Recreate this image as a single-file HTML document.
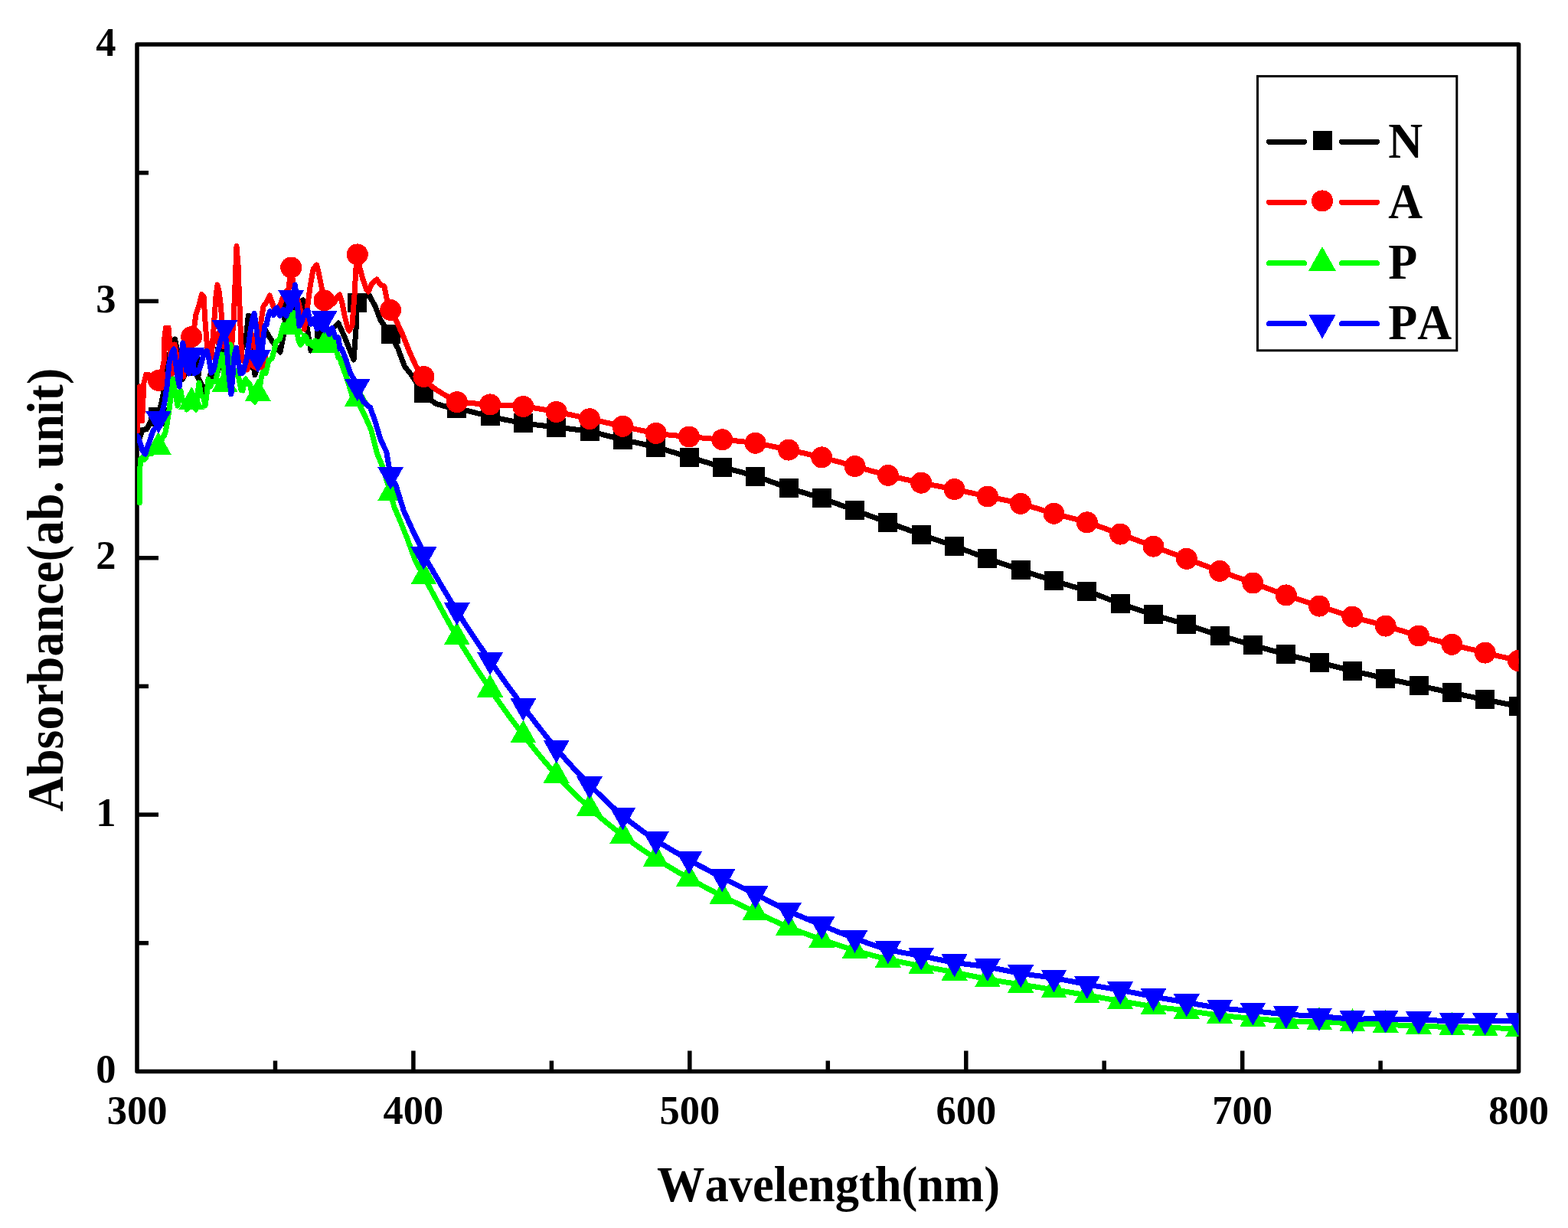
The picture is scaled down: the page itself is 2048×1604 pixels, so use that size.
<!DOCTYPE html>
<html><head><meta charset="utf-8"><title>Absorbance spectra</title>
<style>
html,body{margin:0;padding:0;background:#fff;}
body{width:2048px;height:1604px;overflow:hidden;}
svg{display:block;}
text{font-kerning:none;font-family:"Liberation Serif","Times New Roman",serif;font-weight:bold;fill:#000;}
</style></head><body>
<svg width="2048" height="1604" viewBox="0 0 2048 1604">
<defs><clipPath id="pc"><rect x="179" y="58" width="1804.6" height="1341.5"/></clipPath></defs>
<g stroke="#000" stroke-width="5.5" fill="none">
<rect x="179" y="58" width="1804.6" height="1341.5" stroke-linejoin="round"/>
<line x1="359.5" y1="1399.5" x2="359.5" y2="1385.5"/><line x1="539.9" y1="1399.5" x2="539.9" y2="1372.5"/><line x1="720.4" y1="1399.5" x2="720.4" y2="1385.5"/><line x1="900.8" y1="1399.5" x2="900.8" y2="1372.5"/><line x1="1081.3" y1="1399.5" x2="1081.3" y2="1385.5"/><line x1="1261.8" y1="1399.5" x2="1261.8" y2="1372.5"/><line x1="1442.2" y1="1399.5" x2="1442.2" y2="1385.5"/><line x1="1622.7" y1="1399.5" x2="1622.7" y2="1372.5"/><line x1="1803.1" y1="1399.5" x2="1803.1" y2="1385.5"/><line x1="179" y1="1231.8" x2="194" y2="1231.8"/><line x1="179" y1="1064.1" x2="207" y2="1064.1"/><line x1="179" y1="896.4" x2="194" y2="896.4"/><line x1="179" y1="728.8" x2="207" y2="728.8"/><line x1="179" y1="561.1" x2="194" y2="561.1"/><line x1="179" y1="393.4" x2="207" y2="393.4"/><line x1="179" y1="225.7" x2="194" y2="225.7"/>
</g>
<g clip-path="url(#pc)" shape-rendering="crispEdges">
<path d="M180.0,582.0 L183.0,570.0 L186.0,562.0 L192.0,560.0 L198.0,548.0 L205.0,544.0 L210.0,530.0 L214.0,510.0 L218.0,490.0 L221.0,465.0 L225.0,447.0 L228.5,443.0 L231.0,455.0 L234.0,478.0 L238.0,496.0 L241.0,490.0 L246.0,480.0 L251.0,478.0 L254.0,480.0 L258.0,492.0 L262.0,500.0 L268.0,512.0 L272.0,500.0 L276.0,485.0 L281.0,495.0 L286.0,480.0 L290.0,472.0 L294.5,465.0 L298.0,470.0 L302.0,478.0 L306.0,475.0 L310.0,470.0 L314.0,462.0 L318.0,450.0 L321.0,445.0 L324.3,412.0 L326.0,438.0 L330.0,470.0 L333.0,490.0 L336.0,480.0 L338.0,470.0 L342.0,445.0 L346.0,430.0 L350.0,437.0 L355.0,445.0 L360.0,452.0 L366.0,460.0 L370.0,440.0 L373.0,418.0 L377.0,410.0 L381.0,405.0 L388.0,398.0 L396.0,392.0 L400.0,420.0 L403.0,440.0 L406.0,458.0 L410.0,455.0 L416.0,448.0 L424.0,440.0 L432.0,432.0 L442.0,422.0 L450.0,440.0 L456.0,455.0 L462.0,470.0 L465.0,430.0 L466.6,396.0 L473.0,388.0 L482.4,386.0 L490.0,400.0 L497.0,418.0 L509.0,436.0 L519.7,455.0 L528.4,478.5 L538.4,491.0 L552.7,513.0 L568.3,527.0 L582.0,531.0 L596.8,533.0 L601.5,534.2 L608.0,535.9 L615.7,537.9 L624.0,540.0 L632.4,542.1 L640.1,543.9 L647.3,545.5 L654.5,547.1 L661.7,548.6 L669.0,550.0 L676.2,551.4 L683.4,552.6 L690.6,553.7 L697.8,554.6 L705.1,555.5 L712.3,556.3 L719.5,557.1 L726.7,558.0 L733.9,558.9 L741.2,559.7 L748.4,560.6 L755.6,561.5 L762.8,562.6 L770.0,563.8 L777.3,565.3 L784.5,566.9 L791.7,568.7 L798.9,570.5 L806.1,572.3 L813.4,574.1 L820.6,575.8 L827.8,577.4 L835.0,579.0 L842.2,580.6 L849.5,582.4 L856.7,584.2 L863.9,586.2 L871.1,588.3 L878.3,590.4 L885.6,592.6 L892.8,594.8 L900.0,597.0 L907.2,599.2 L914.4,601.4 L921.7,603.5 L928.9,605.7 L936.1,607.9 L943.3,610.0 L950.5,612.0 L957.8,614.0 L965.0,615.9 L972.2,617.8 L979.4,619.8 L986.6,622.0 L993.9,624.4 L1001.1,626.9 L1008.3,629.6 L1015.5,632.2 L1022.7,634.8 L1030.0,637.3 L1037.2,639.6 L1044.4,641.9 L1051.6,644.1 L1058.8,646.3 L1066.1,648.5 L1073.3,650.9 L1080.5,653.4 L1087.7,656.0 L1094.9,658.6 L1102.2,661.3 L1109.4,663.9 L1116.6,666.6 L1123.8,669.2 L1131.0,671.9 L1138.3,674.6 L1145.5,677.2 L1152.7,679.9 L1159.9,682.5 L1167.1,685.1 L1174.4,687.8 L1181.6,690.4 L1188.8,693.0 L1196.0,695.6 L1203.2,698.2 L1210.5,700.8 L1217.7,703.3 L1224.9,705.8 L1232.1,708.3 L1239.3,710.8 L1246.6,713.4 L1253.8,716.0 L1261.0,718.7 L1268.2,721.4 L1275.4,724.1 L1282.7,726.8 L1289.9,729.4 L1297.1,732.0 L1304.3,734.5 L1311.5,737.0 L1318.8,739.5 L1326.0,742.0 L1333.2,744.4 L1340.4,746.8 L1347.6,749.3 L1354.9,751.7 L1362.1,754.0 L1369.3,756.4 L1376.5,758.7 L1383.7,760.9 L1391.0,763.1 L1398.2,765.2 L1405.4,767.4 L1412.6,769.6 L1419.8,772.0 L1427.1,774.6 L1434.3,777.3 L1441.5,780.1 L1448.7,783.0 L1455.9,785.7 L1463.2,788.4 L1470.4,790.9 L1477.6,793.4 L1484.8,795.9 L1492.0,798.3 L1499.3,800.6 L1506.5,802.9 L1513.7,805.1 L1520.9,807.3 L1528.1,809.4 L1535.4,811.5 L1542.6,813.6 L1549.8,815.8 L1557.0,818.1 L1564.2,820.5 L1571.5,822.9 L1578.7,825.3 L1585.9,827.7 L1593.1,830.0 L1600.3,832.2 L1607.6,834.3 L1614.8,836.4 L1622.0,838.5 L1629.2,840.5 L1636.4,842.6 L1643.7,844.7 L1650.9,846.7 L1658.1,848.8 L1665.3,850.8 L1672.5,852.8 L1679.8,854.7 L1687.0,856.6 L1694.2,858.4 L1701.4,860.1 L1708.6,861.9 L1715.9,863.6 L1723.1,865.4 L1730.3,867.2 L1737.5,869.0 L1744.7,870.9 L1752.0,872.7 L1759.2,874.5 L1766.4,876.2 L1773.6,877.9 L1780.8,879.6 L1788.1,881.2 L1795.3,882.9 L1802.5,884.5 L1809.7,886.1 L1816.9,887.7 L1824.2,889.3 L1831.4,890.8 L1838.6,892.4 L1845.8,893.9 L1853.0,895.5 L1860.3,897.1 L1867.5,898.7 L1874.7,900.2 L1881.9,901.8 L1889.1,903.4 L1896.4,904.9 L1903.6,906.4 L1910.8,907.9 L1918.0,909.4 L1925.2,910.9 L1932.5,912.3 L1939.7,913.8 L1947.4,915.4 L1955.7,917.0 L1964.0,918.7 L1971.8,920.3 L1978.3,921.6 L1983.0,922.5" fill="none" stroke="#000" stroke-width="7" stroke-linejoin="round" stroke-linecap="round"/>
<g fill="#000"><rect x="194.4" y="531.5" width="25" height="25"/><rect x="237.7" y="465.5" width="25" height="25"/><rect x="281.0" y="452.5" width="25" height="25"/><rect x="324.3" y="457.5" width="25" height="25"/><rect x="367.7" y="392.5" width="25" height="25"/><rect x="411.0" y="427.5" width="25" height="25"/><rect x="454.3" y="383.1" width="25" height="25"/><rect x="497.6" y="423.5" width="25" height="25"/><rect x="540.9" y="500.7" width="25" height="25"/><rect x="584.3" y="520.5" width="25" height="25"/><rect x="627.6" y="531.4" width="25" height="25"/><rect x="670.9" y="540.1" width="25" height="25"/><rect x="714.2" y="545.5" width="25" height="25"/><rect x="757.5" y="551.3" width="25" height="25"/><rect x="800.9" y="561.6" width="25" height="25"/><rect x="844.2" y="571.7" width="25" height="25"/><rect x="887.5" y="584.5" width="25" height="25"/><rect x="930.8" y="597.5" width="25" height="25"/><rect x="974.1" y="609.5" width="25" height="25"/><rect x="1017.5" y="624.8" width="25" height="25"/><rect x="1060.8" y="638.4" width="25" height="25"/><rect x="1104.1" y="654.1" width="25" height="25"/><rect x="1147.4" y="670.0" width="25" height="25"/><rect x="1190.7" y="685.7" width="25" height="25"/><rect x="1234.1" y="700.9" width="25" height="25"/><rect x="1277.4" y="716.9" width="25" height="25"/><rect x="1320.7" y="731.9" width="25" height="25"/><rect x="1364.0" y="746.2" width="25" height="25"/><rect x="1407.3" y="759.5" width="25" height="25"/><rect x="1450.7" y="775.9" width="25" height="25"/><rect x="1494.0" y="790.4" width="25" height="25"/><rect x="1537.3" y="803.3" width="25" height="25"/><rect x="1580.6" y="817.5" width="25" height="25"/><rect x="1623.9" y="830.1" width="25" height="25"/><rect x="1667.3" y="842.2" width="25" height="25"/><rect x="1710.6" y="852.9" width="25" height="25"/><rect x="1753.9" y="863.7" width="25" height="25"/><rect x="1797.2" y="873.6" width="25" height="25"/><rect x="1840.5" y="883.0" width="25" height="25"/><rect x="1883.9" y="892.4" width="25" height="25"/><rect x="1927.2" y="901.3" width="25" height="25"/><rect x="1970.5" y="910.0" width="25" height="25"/></g>
<path d="M179.5,563.0 L182.6,505.0 L185.5,550.0 L188.0,500.0 L191.0,489.0 L196.0,490.0 L205.0,497.0 L210.0,492.0 L214.0,472.0 L215.0,440.0 L216.5,428.0 L220.0,428.0 L221.5,445.0 L222.5,470.0 L224.0,490.0 L226.0,465.0 L228.0,450.0 L231.0,465.0 L235.0,485.0 L239.6,492.0 L243.0,468.0 L247.0,448.0 L251.0,440.0 L254.0,425.0 L256.0,410.0 L259.0,402.0 L263.5,384.5 L266.0,387.0 L268.0,420.0 L271.0,458.0 L276.0,467.0 L279.0,430.0 L282.0,387.0 L284.0,372.0 L286.0,380.0 L288.5,400.0 L291.0,440.0 L294.5,442.0 L298.5,430.0 L302.0,455.0 L305.0,420.0 L307.0,372.0 L309.0,321.7 L311.0,346.0 L313.0,400.0 L315.0,450.0 L316.5,471.0 L320.0,473.0 L323.0,483.0 L325.5,455.0 L327.0,432.0 L331.0,445.0 L334.0,460.0 L337.8,470.0 L341.0,420.0 L344.0,400.0 L348.0,395.0 L352.3,386.0 L357.0,400.0 L362.0,407.0 L366.0,398.0 L371.0,385.0 L377.0,377.0 L380.3,349.6 L384.0,378.0 L390.0,395.0 L395.0,415.0 L397.5,430.0 L401.0,405.0 L405.0,375.0 L409.0,352.0 L413.5,346.0 L416.0,355.0 L420.0,375.0 L424.0,393.5 L430.0,398.0 L436.0,396.0 L440.0,388.0 L443.6,385.0 L447.0,396.0 L450.0,412.0 L454.0,428.0 L456.0,432.0 L460.0,425.0 L463.0,385.0 L465.0,350.0 L466.6,333.0 L470.0,350.0 L474.0,365.0 L479.0,379.0 L481.0,381.0 L486.0,370.0 L492.2,365.0 L497.0,372.0 L502.0,374.0 L505.0,390.0 L510.3,405.5 L518.0,420.0 L526.0,437.3 L535.0,460.0 L543.4,478.5 L553.3,492.2 L562.0,503.0 L570.8,509.7 L582.0,516.5 L596.8,525.2 L601.5,525.6 L608.0,526.1 L615.7,526.6 L624.0,527.3 L632.4,527.9 L640.1,528.4 L647.3,528.8 L654.5,529.1 L661.7,529.5 L669.0,529.8 L676.2,530.3 L683.4,531.0 L690.6,531.9 L697.8,532.9 L705.1,534.1 L712.3,535.3 L719.5,536.7 L726.7,538.0 L733.9,539.4 L741.2,540.9 L748.4,542.4 L755.6,544.0 L762.8,545.6 L770.0,547.2 L777.3,548.8 L784.5,550.4 L791.7,552.0 L798.9,553.6 L806.1,555.2 L813.4,556.8 L820.6,558.4 L827.8,560.0 L835.0,561.7 L842.2,563.2 L849.5,564.6 L856.7,565.9 L863.9,566.9 L871.1,567.8 L878.3,568.5 L885.6,569.2 L892.8,569.8 L900.0,570.5 L907.2,571.2 L914.4,571.8 L921.7,572.4 L928.9,573.0 L936.1,573.6 L943.3,574.3 L950.5,575.0 L957.8,575.6 L965.0,576.2 L972.2,577.0 L979.4,577.8 L986.6,578.8 L993.9,580.0 L1001.1,581.4 L1008.3,582.9 L1015.5,584.4 L1022.7,586.0 L1030.0,587.6 L1037.2,589.2 L1044.4,590.7 L1051.6,592.3 L1058.8,594.0 L1066.1,595.6 L1073.3,597.4 L1080.5,599.2 L1087.7,601.2 L1094.9,603.1 L1102.2,605.1 L1109.4,607.1 L1116.6,609.1 L1123.8,611.1 L1131.0,613.1 L1138.3,615.1 L1145.5,617.1 L1152.7,619.0 L1159.9,620.9 L1167.1,622.7 L1174.4,624.4 L1181.6,626.0 L1188.8,627.6 L1196.0,629.2 L1203.2,630.7 L1210.5,632.2 L1217.7,633.6 L1224.9,634.9 L1232.1,636.3 L1239.3,637.7 L1246.6,639.1 L1253.8,640.6 L1261.0,642.2 L1268.2,643.7 L1275.4,645.3 L1282.7,646.9 L1289.9,648.5 L1297.1,650.0 L1304.3,651.5 L1311.5,653.0 L1318.8,654.5 L1326.0,656.1 L1333.2,657.9 L1340.4,659.9 L1347.6,662.0 L1354.9,664.2 L1362.1,666.5 L1369.3,668.7 L1376.5,670.8 L1383.7,672.8 L1391.0,674.6 L1398.2,676.4 L1405.4,678.2 L1412.6,680.2 L1419.8,682.3 L1427.1,684.6 L1434.3,687.1 L1441.5,689.7 L1448.7,692.3 L1455.9,695.0 L1463.2,697.6 L1470.4,700.2 L1477.6,702.9 L1484.8,705.6 L1492.0,708.3 L1499.3,711.0 L1506.5,713.7 L1513.7,716.4 L1520.9,719.1 L1528.1,721.8 L1535.4,724.4 L1542.6,727.1 L1549.8,729.8 L1557.0,732.5 L1564.2,735.2 L1571.5,737.9 L1578.7,740.6 L1585.9,743.2 L1593.1,745.9 L1600.3,748.5 L1607.6,751.1 L1614.8,753.7 L1622.0,756.3 L1629.2,758.9 L1636.4,761.5 L1643.7,764.2 L1650.9,766.8 L1658.1,769.5 L1665.3,772.2 L1672.5,774.8 L1679.8,777.4 L1687.0,779.9 L1694.2,782.3 L1701.4,784.6 L1708.6,786.9 L1715.9,789.3 L1723.1,791.6 L1730.3,794.0 L1737.5,796.4 L1744.7,798.7 L1752.0,801.1 L1759.2,803.4 L1766.4,805.6 L1773.6,807.7 L1780.8,809.7 L1788.1,811.7 L1795.3,813.6 L1802.5,815.6 L1809.7,817.6 L1816.9,819.7 L1824.2,821.9 L1831.4,824.1 L1838.6,826.3 L1845.8,828.4 L1853.0,830.5 L1860.3,832.5 L1867.5,834.4 L1874.7,836.3 L1881.9,838.1 L1889.1,840.0 L1896.4,841.8 L1903.6,843.6 L1910.8,845.5 L1918.0,847.3 L1925.2,849.0 L1932.5,850.8 L1939.7,852.6 L1947.4,854.5 L1955.7,856.5 L1964.0,858.5 L1971.8,860.3 L1978.3,861.9 L1983.0,863.0" fill="none" stroke="#f00" stroke-width="7" stroke-linejoin="round" stroke-linecap="round"/>
<g fill="#f00"><circle cx="206.9" cy="497.0" r="14"/><circle cx="250.2" cy="440.0" r="14"/><circle cx="293.5" cy="442.0" r="14"/><circle cx="336.8" cy="470.0" r="14"/><circle cx="380.2" cy="349.5" r="14"/><circle cx="423.5" cy="392.4" r="14"/><circle cx="466.8" cy="332.4" r="14"/><circle cx="510.1" cy="405.0" r="14"/><circle cx="553.4" cy="492.0" r="14"/><circle cx="596.8" cy="525.2" r="14"/><circle cx="640.1" cy="528.4" r="14"/><circle cx="683.4" cy="531.0" r="14"/><circle cx="726.7" cy="538.0" r="14"/><circle cx="770.0" cy="547.2" r="14"/><circle cx="813.4" cy="556.8" r="14"/><circle cx="856.7" cy="565.9" r="14"/><circle cx="900.0" cy="570.5" r="14"/><circle cx="943.3" cy="574.3" r="14"/><circle cx="986.6" cy="578.8" r="14"/><circle cx="1030.0" cy="587.6" r="14"/><circle cx="1073.3" cy="597.4" r="14"/><circle cx="1116.6" cy="609.1" r="14"/><circle cx="1159.9" cy="620.9" r="14"/><circle cx="1203.2" cy="630.7" r="14"/><circle cx="1246.6" cy="639.1" r="14"/><circle cx="1289.9" cy="648.5" r="14"/><circle cx="1333.2" cy="657.9" r="14"/><circle cx="1376.5" cy="670.8" r="14"/><circle cx="1419.8" cy="682.3" r="14"/><circle cx="1463.2" cy="697.6" r="14"/><circle cx="1506.5" cy="713.7" r="14"/><circle cx="1549.8" cy="729.8" r="14"/><circle cx="1593.1" cy="745.9" r="14"/><circle cx="1636.4" cy="761.5" r="14"/><circle cx="1679.8" cy="777.4" r="14"/><circle cx="1723.1" cy="791.6" r="14"/><circle cx="1766.4" cy="805.6" r="14"/><circle cx="1809.7" cy="817.6" r="14"/><circle cx="1853.0" cy="830.5" r="14"/><circle cx="1896.4" cy="841.8" r="14"/><circle cx="1939.7" cy="852.6" r="14"/><circle cx="1983.0" cy="863.0" r="14"/></g>
<path d="M182.2,657.0 L182.6,630.0 L183.2,600.0 L186.0,597.0 L188.0,600.5 L190.0,599.0 L192.5,592.8 L195.0,592.0 L197.5,592.8 L200.0,588.0 L202.5,582.6 L205.0,583.0 L207.5,583.7 L210.0,579.0 L212.0,571.6 L214.0,570.0 L216.0,564.3 L218.0,555.0 L221.0,535.0 L224.0,510.0 L226.0,495.0 L229.0,515.0 L232.0,530.0 L234.0,516.1 L236.0,510.0 L238.0,522.4 L240.0,525.0 L242.0,525.7 L244.0,535.0 L246.0,529.8 L248.0,515.0 L250.0,514.3 L252.0,520.0 L254.0,531.4 L256.0,535.0 L258.0,514.0 L260.0,500.0 L262.0,513.1 L264.0,518.0 L266.0,519.9 L268.0,530.0 L270.0,515.5 L272.0,495.0 L275.0,505.0 L277.0,498.1 L279.0,498.0 L281.0,498.6 L283.0,492.0 L284.8,478.7 L286.5,475.0 L288.2,473.5 L290.0,463.0 L293.0,490.0 L296.0,500.0 L299.0,460.0 L301.0,450.0 L303.0,470.0 L306.0,490.0 L309.0,485.0 L311.0,489.2 L313.0,500.0 L315.0,509.6 L317.0,510.0 L319.0,499.2 L321.0,495.0 L323.0,501.7 L325.0,500.0 L327.0,504.2 L329.0,515.0 L331.0,523.0 L333.0,525.0 L335.4,512.3 L337.8,509.0 L339.4,505.4 L341.0,495.0 L343.0,486.6 L345.0,485.0 L347.0,487.5 L349.0,480.0 L351.0,470.3 L353.0,470.0 L355.5,467.6 L358.0,458.0 L360.5,446.6 L363.0,445.0 L365.5,442.6 L368.0,432.0 L370.5,424.1 L373.0,425.0 L375.5,425.9 L378.0,420.0 L381.0,418.0 L382.6,408.4 L384.2,408.5 L387.0,430.0 L390.0,445.0 L392.5,450.4 L395.0,447.0 L397.5,438.6 L400.0,440.0 L402.0,448.8 L404.0,448.0 L406.0,446.4 L408.0,452.0 L410.0,452.2 L412.0,445.0 L414.0,446.7 L416.0,455.0 L418.0,455.8 L420.0,450.0 L422.0,444.9 L424.0,446.0 L426.0,446.6 L428.0,440.0 L429.9,432.4 L431.8,433.3 L433.4,442.2 L435.0,445.0 L437.5,448.1 L440.0,460.0 L442.0,467.2 L444.0,467.8 L446.0,475.0 L453.0,494.0 L460.0,517.0 L470.0,530.0 L477.4,545.0 L484.9,562.0 L492.4,592.0 L499.9,610.0 L510.0,644.0 L514.8,662.0 L522.3,679.5 L532.3,704.4 L542.2,731.9 L553.4,752.8 L558.2,761.5 L564.7,773.7 L572.4,788.0 L580.7,803.3 L589.0,818.3 L596.8,831.8 L604.0,843.9 L611.2,855.6 L618.4,867.1 L625.6,878.3 L632.9,889.2 L640.1,900.0 L647.3,910.6 L654.5,920.9 L661.7,930.9 L669.0,940.8 L676.2,950.5 L683.4,959.9 L690.6,969.2 L697.8,978.2 L705.1,987.1 L712.3,995.7 L719.5,1004.1 L726.7,1012.2 L733.9,1020.0 L741.2,1027.5 L748.4,1034.8 L755.6,1041.8 L762.8,1048.6 L770.0,1055.3 L777.3,1061.8 L784.5,1068.0 L791.7,1074.0 L798.9,1079.9 L806.1,1085.6 L813.4,1091.2 L820.6,1096.6 L827.8,1101.9 L835.0,1107.0 L842.2,1111.9 L849.5,1116.8 L856.7,1121.5 L863.9,1126.1 L871.1,1130.5 L878.3,1134.8 L885.6,1139.1 L892.8,1143.2 L900.0,1147.3 L907.2,1151.3 L914.4,1155.3 L921.7,1159.2 L928.9,1163.0 L936.1,1166.8 L943.3,1170.5 L950.5,1174.1 L957.8,1177.6 L965.0,1181.1 L972.2,1184.5 L979.4,1187.9 L986.6,1191.3 L993.9,1194.7 L1001.1,1198.1 L1008.3,1201.5 L1015.5,1204.8 L1022.7,1208.0 L1030.0,1211.1 L1037.2,1214.0 L1044.4,1216.8 L1051.6,1219.4 L1058.8,1222.0 L1066.1,1224.6 L1073.3,1227.1 L1080.5,1229.6 L1087.7,1232.1 L1094.9,1234.6 L1102.2,1237.0 L1109.4,1239.3 L1116.6,1241.5 L1123.8,1243.6 L1131.0,1245.6 L1138.3,1247.6 L1145.5,1249.5 L1152.7,1251.3 L1159.9,1253.0 L1167.1,1254.6 L1174.4,1256.2 L1181.6,1257.6 L1188.8,1259.0 L1196.0,1260.4 L1203.2,1261.8 L1210.5,1263.2 L1217.7,1264.6 L1224.9,1265.9 L1232.1,1267.2 L1239.3,1268.6 L1246.6,1270.0 L1253.8,1271.5 L1261.0,1273.0 L1268.2,1274.5 L1275.4,1276.0 L1282.7,1277.5 L1289.9,1278.9 L1297.1,1280.2 L1304.3,1281.4 L1311.5,1282.6 L1318.8,1283.7 L1326.0,1284.9 L1333.2,1286.0 L1340.4,1287.1 L1347.6,1288.3 L1354.9,1289.4 L1362.1,1290.5 L1369.3,1291.7 L1376.5,1292.8 L1383.7,1294.0 L1391.0,1295.1 L1398.2,1296.3 L1405.4,1297.5 L1412.6,1298.7 L1419.8,1299.9 L1427.1,1301.1 L1434.3,1302.4 L1441.5,1303.7 L1448.7,1305.0 L1455.9,1306.3 L1463.2,1307.5 L1470.4,1308.7 L1477.6,1310.0 L1484.8,1311.2 L1492.0,1312.4 L1499.3,1313.6 L1506.5,1314.7 L1513.7,1315.7 L1520.9,1316.6 L1528.1,1317.5 L1535.4,1318.3 L1542.6,1319.2 L1549.8,1320.1 L1557.0,1321.1 L1564.2,1322.2 L1571.5,1323.2 L1578.7,1324.3 L1585.9,1325.3 L1593.1,1326.2 L1600.3,1327.0 L1607.6,1327.7 L1614.8,1328.4 L1622.0,1329.1 L1629.2,1329.7 L1636.4,1330.3 L1643.7,1330.9 L1650.9,1331.5 L1658.1,1332.1 L1665.3,1332.6 L1672.5,1333.1 L1679.8,1333.5 L1687.0,1333.8 L1694.2,1334.1 L1701.4,1334.2 L1708.6,1334.4 L1715.9,1334.6 L1723.1,1334.8 L1730.3,1335.1 L1737.5,1335.4 L1744.7,1335.7 L1752.0,1336.1 L1759.2,1336.4 L1766.4,1336.7 L1773.6,1337.0 L1780.8,1337.2 L1788.1,1337.5 L1795.3,1337.8 L1802.5,1338.0 L1809.7,1338.3 L1816.9,1338.6 L1824.2,1338.9 L1831.4,1339.3 L1838.6,1339.6 L1845.8,1339.9 L1853.0,1340.2 L1860.3,1340.5 L1867.5,1340.7 L1874.7,1340.9 L1881.9,1341.1 L1889.1,1341.3 L1896.4,1341.5 L1903.6,1341.7 L1910.8,1341.8 L1918.0,1342.0 L1925.2,1342.1 L1932.5,1342.2 L1939.7,1342.4 L1947.4,1342.6 L1955.7,1342.9 L1964.0,1343.1 L1971.8,1343.3 L1978.3,1343.6 L1983.0,1343.7" fill="none" stroke="#0f0" stroke-width="7" stroke-linejoin="round" stroke-linecap="round"/>
<g fill="#0f0"><polygon points="206.9,564.0 223.9,594.0 189.9,594.0"/><polygon points="250.2,505.0 267.2,535.0 233.2,535.0"/><polygon points="293.5,482.0 310.5,512.0 276.5,512.0"/><polygon points="336.8,494.0 353.8,524.0 319.8,524.0"/><polygon points="380.2,407.0 397.2,437.0 363.2,437.0"/><polygon points="423.5,431.0 440.5,461.0 406.5,461.0"/><polygon points="466.8,501.0 483.8,531.0 449.8,531.0"/><polygon points="510.1,624.0 527.1,654.0 493.1,654.0"/><polygon points="553.4,733.3 570.4,763.3 536.4,763.3"/><polygon points="596.8,812.3 613.8,842.3 579.8,842.3"/><polygon points="640.1,880.5 657.1,910.5 623.1,910.5"/><polygon points="683.4,940.4 700.4,970.4 666.4,970.4"/><polygon points="726.7,992.7 743.7,1022.7 709.7,1022.7"/><polygon points="770.0,1035.8 787.0,1065.8 753.0,1065.8"/><polygon points="813.4,1071.7 830.4,1101.7 796.4,1101.7"/><polygon points="856.7,1102.0 873.7,1132.0 839.7,1132.0"/><polygon points="900.0,1127.8 917.0,1157.8 883.0,1157.8"/><polygon points="943.3,1151.0 960.3,1181.0 926.3,1181.0"/><polygon points="986.6,1171.8 1003.6,1201.8 969.6,1201.8"/><polygon points="1030.0,1191.6 1047.0,1221.6 1013.0,1221.6"/><polygon points="1073.3,1207.6 1090.3,1237.6 1056.3,1237.6"/><polygon points="1116.6,1222.0 1133.6,1252.0 1099.6,1252.0"/><polygon points="1159.9,1233.5 1176.9,1263.5 1142.9,1263.5"/><polygon points="1203.2,1242.3 1220.2,1272.3 1186.2,1272.3"/><polygon points="1246.6,1250.5 1263.6,1280.5 1229.6,1280.5"/><polygon points="1289.9,1259.4 1306.9,1289.4 1272.9,1289.4"/><polygon points="1333.2,1266.5 1350.2,1296.5 1316.2,1296.5"/><polygon points="1376.5,1273.3 1393.5,1303.3 1359.5,1303.3"/><polygon points="1419.8,1280.4 1436.8,1310.4 1402.8,1310.4"/><polygon points="1463.2,1288.0 1480.2,1318.0 1446.2,1318.0"/><polygon points="1506.5,1295.2 1523.5,1325.2 1489.5,1325.2"/><polygon points="1549.8,1300.6 1566.8,1330.6 1532.8,1330.6"/><polygon points="1593.1,1306.7 1610.1,1336.7 1576.1,1336.7"/><polygon points="1636.4,1310.8 1653.4,1340.8 1619.4,1340.8"/><polygon points="1679.8,1314.0 1696.8,1344.0 1662.8,1344.0"/><polygon points="1723.1,1315.3 1740.1,1345.3 1706.1,1345.3"/><polygon points="1766.4,1317.2 1783.4,1347.2 1749.4,1347.2"/><polygon points="1809.7,1318.8 1826.7,1348.8 1792.7,1348.8"/><polygon points="1853.0,1320.7 1870.0,1350.7 1836.0,1350.7"/><polygon points="1896.4,1322.0 1913.4,1352.0 1879.4,1352.0"/><polygon points="1939.7,1322.9 1956.7,1352.9 1922.7,1352.9"/><polygon points="1983.0,1324.2 2000.0,1354.2 1966.0,1354.2"/></g>
<path d="M180.0,570.0 L183.0,578.0 L186.0,588.0 L188.0,591.5 L190.0,593.0 L192.0,585.3 L194.0,580.0 L196.0,575.1 L198.0,568.0 L200.0,562.7 L202.0,560.0 L204.9,557.3 L207.8,552.0 L209.4,545.1 L211.0,540.0 L213.0,533.4 L215.0,525.0 L218.0,505.0 L221.0,475.0 L224.0,462.0 L227.0,456.0 L229.0,470.0 L231.5,490.0 L234.4,505.0 L236.0,480.0 L238.8,448.0 L241.0,462.0 L243.5,484.0 L245.2,482.3 L247.0,488.0 L249.0,479.3 L251.0,465.0 L254.0,488.0 L256.0,486.0 L258.0,486.0 L260.5,482.0 L263.0,475.0 L266.0,462.0 L268.1,459.0 L270.2,458.4 L273.0,470.0 L276.0,487.0 L278.0,484.9 L280.0,480.0 L282.0,468.8 L284.0,460.0 L286.0,453.8 L288.0,445.0 L290.8,437.5 L293.6,432.0 L296.0,450.0 L299.0,490.0 L301.9,514.8 L304.0,490.0 L306.0,465.0 L308.6,454.2 L311.0,470.0 L314.0,488.0 L316.0,487.8 L318.0,485.0 L320.0,476.1 L322.0,470.0 L324.0,456.2 L326.0,440.0 L329.0,420.0 L330.6,413.4 L332.2,409.4 L335.0,430.0 L338.0,460.0 L340.6,472.6 L343.0,450.0 L346.0,425.0 L348.1,424.2 L350.3,413.0 L352.6,406.7 L355.0,408.0 L357.3,411.4 L359.6,404.0 L361.8,402.0 L364.0,410.0 L366.0,412.3 L368.0,406.0 L370.0,404.3 L372.0,410.0 L374.0,412.7 L376.0,404.0 L378.5,394.3 L381.0,394.0 L383.2,388.3 L385.4,372.0 L388.0,395.0 L391.0,426.0 L394.0,420.0 L397.0,412.0 L400.0,406.0 L402.0,405.3 L404.0,416.0 L406.0,423.3 L408.0,420.0 L410.0,416.2 L412.0,424.0 L414.0,429.5 L416.0,426.0 L418.0,421.5 L420.0,428.0 L422.0,430.7 L424.0,424.0 L426.0,422.2 L428.0,432.0 L430.0,436.7 L432.0,430.0 L434.0,428.2 L436.0,434.0 L438.0,440.9 L440.0,440.0 L442.0,440.9 L444.0,455.9 L446.0,455.0 L452.0,470.0 L458.0,488.0 L462.0,495.0 L467.8,509.5 L474.9,525.0 L483.6,532.4 L489.9,550.0 L497.4,575.0 L504.8,590.0 L510.0,621.0 L517.3,634.6 L527.3,667.0 L539.8,694.5 L549.7,714.4 L553.4,725.4 L558.2,733.4 L564.7,744.6 L572.4,757.8 L580.7,771.8 L589.0,785.7 L596.8,798.2 L604.0,809.5 L611.2,820.6 L618.4,831.4 L625.6,842.1 L632.9,852.6 L640.1,863.0 L647.3,873.3 L654.5,883.5 L661.7,893.6 L669.0,903.5 L676.2,913.3 L683.4,923.0 L690.6,932.5 L697.8,942.0 L705.1,951.3 L712.3,960.4 L719.5,969.3 L726.7,978.0 L733.9,986.4 L741.2,994.5 L748.4,1002.5 L755.6,1010.2 L762.8,1017.7 L770.0,1025.1 L777.3,1032.3 L784.5,1039.4 L791.7,1046.3 L798.9,1053.0 L806.1,1059.4 L813.4,1065.6 L820.6,1071.5 L827.8,1077.1 L835.0,1082.4 L842.2,1087.6 L849.5,1092.5 L856.7,1097.4 L863.9,1102.1 L871.1,1106.5 L878.3,1110.8 L885.6,1115.0 L892.8,1119.1 L900.0,1123.2 L907.2,1127.2 L914.4,1131.2 L921.7,1135.0 L928.9,1138.8 L936.1,1142.6 L943.3,1146.3 L950.5,1150.0 L957.8,1153.6 L965.0,1157.2 L972.2,1160.8 L979.4,1164.4 L986.6,1168.0 L993.9,1171.7 L1001.1,1175.4 L1008.3,1179.2 L1015.5,1182.8 L1022.7,1186.4 L1030.0,1189.9 L1037.2,1193.2 L1044.4,1196.4 L1051.6,1199.4 L1058.8,1202.4 L1066.1,1205.4 L1073.3,1208.4 L1080.5,1211.4 L1087.7,1214.4 L1094.9,1217.3 L1102.2,1220.2 L1109.4,1223.0 L1116.6,1225.7 L1123.8,1228.3 L1131.0,1231.0 L1138.3,1233.5 L1145.5,1235.9 L1152.7,1238.2 L1159.9,1240.2 L1167.1,1242.0 L1174.4,1243.4 L1181.6,1244.8 L1188.8,1246.0 L1196.0,1247.3 L1203.2,1248.6 L1210.5,1250.1 L1217.7,1251.6 L1224.9,1253.1 L1232.1,1254.5 L1239.3,1255.9 L1246.6,1257.2 L1253.8,1258.3 L1261.0,1259.2 L1268.2,1260.1 L1275.4,1261.0 L1282.7,1261.9 L1289.9,1263.0 L1297.1,1264.3 L1304.3,1265.7 L1311.5,1267.2 L1318.8,1268.7 L1326.0,1270.1 L1333.2,1271.4 L1340.4,1272.5 L1347.6,1273.5 L1354.9,1274.5 L1362.1,1275.4 L1369.3,1276.4 L1376.5,1277.5 L1383.7,1278.8 L1391.0,1280.2 L1398.2,1281.6 L1405.4,1283.1 L1412.6,1284.5 L1419.8,1285.9 L1427.1,1287.2 L1434.3,1288.4 L1441.5,1289.6 L1448.7,1290.8 L1455.9,1292.0 L1463.2,1293.3 L1470.4,1294.7 L1477.6,1296.1 L1484.8,1297.5 L1492.0,1299.0 L1499.3,1300.4 L1506.5,1301.8 L1513.7,1303.1 L1520.9,1304.4 L1528.1,1305.6 L1535.4,1306.9 L1542.6,1308.1 L1549.8,1309.3 L1557.0,1310.6 L1564.2,1311.9 L1571.5,1313.2 L1578.7,1314.4 L1585.9,1315.6 L1593.1,1316.6 L1600.3,1317.5 L1607.6,1318.2 L1614.8,1318.8 L1622.0,1319.4 L1629.2,1320.0 L1636.4,1320.6 L1643.7,1321.3 L1650.9,1322.1 L1658.1,1322.8 L1665.3,1323.6 L1672.5,1324.3 L1679.8,1324.9 L1687.0,1325.4 L1694.2,1325.9 L1701.4,1326.3 L1708.6,1326.7 L1715.9,1327.1 L1723.1,1327.6 L1730.3,1328.1 L1737.5,1328.7 L1744.7,1329.4 L1752.0,1330.0 L1759.2,1330.4 L1766.4,1330.8 L1773.6,1331.0 L1780.8,1331.0 L1788.1,1330.9 L1795.3,1330.8 L1802.5,1330.8 L1809.7,1330.8 L1816.9,1331.0 L1824.2,1331.2 L1831.4,1331.4 L1838.6,1331.7 L1845.8,1332.0 L1853.0,1332.2 L1860.3,1332.4 L1867.5,1332.7 L1874.7,1332.9 L1881.9,1333.2 L1889.1,1333.4 L1896.4,1333.5 L1903.6,1333.6 L1910.8,1333.6 L1918.0,1333.6 L1925.2,1333.5 L1932.5,1333.5 L1939.7,1333.5 L1947.4,1333.5 L1955.7,1333.5 L1964.0,1333.5 L1971.8,1333.5 L1978.3,1333.5 L1983.0,1333.5" fill="none" stroke="#00f" stroke-width="7" stroke-linejoin="round" stroke-linecap="round"/>
<g fill="#00f"><polygon points="189.9,536.7 223.9,536.7 206.9,566.7"/><polygon points="233.2,454.0 267.2,454.0 250.2,484.0"/><polygon points="276.5,417.8 310.5,417.8 293.5,447.8"/><polygon points="319.8,457.0 353.8,457.0 336.8,487.0"/><polygon points="363.2,379.0 397.2,379.0 380.2,409.0"/><polygon points="406.5,406.0 440.5,406.0 423.5,436.0"/><polygon points="449.8,494.5 483.8,494.5 466.8,524.5"/><polygon points="493.1,609.9 527.1,609.9 510.1,639.9"/><polygon points="536.4,714.4 570.4,714.4 553.4,744.4"/><polygon points="579.8,787.2 613.8,787.2 596.8,817.2"/><polygon points="623.1,852.0 657.1,852.0 640.1,882.0"/><polygon points="666.4,912.0 700.4,912.0 683.4,942.0"/><polygon points="709.7,967.0 743.7,967.0 726.7,997.0"/><polygon points="753.0,1014.1 787.0,1014.1 770.0,1044.1"/><polygon points="796.4,1054.6 830.4,1054.6 813.4,1084.6"/><polygon points="839.7,1086.4 873.7,1086.4 856.7,1116.4"/><polygon points="883.0,1112.2 917.0,1112.2 900.0,1142.2"/><polygon points="926.3,1135.3 960.3,1135.3 943.3,1165.3"/><polygon points="969.6,1157.0 1003.6,1157.0 986.6,1187.0"/><polygon points="1013.0,1178.9 1047.0,1178.9 1030.0,1208.9"/><polygon points="1056.3,1197.4 1090.3,1197.4 1073.3,1227.4"/><polygon points="1099.6,1214.7 1133.6,1214.7 1116.6,1244.7"/><polygon points="1142.9,1229.2 1176.9,1229.2 1159.9,1259.2"/><polygon points="1186.2,1237.6 1220.2,1237.6 1203.2,1267.6"/><polygon points="1229.6,1246.2 1263.6,1246.2 1246.6,1276.2"/><polygon points="1272.9,1252.0 1306.9,1252.0 1289.9,1282.0"/><polygon points="1316.2,1260.4 1350.2,1260.4 1333.2,1290.4"/><polygon points="1359.5,1266.5 1393.5,1266.5 1376.5,1296.5"/><polygon points="1402.8,1274.9 1436.8,1274.9 1419.8,1304.9"/><polygon points="1446.2,1282.3 1480.2,1282.3 1463.2,1312.3"/><polygon points="1489.5,1290.8 1523.5,1290.8 1506.5,1320.8"/><polygon points="1532.8,1298.3 1566.8,1298.3 1549.8,1328.3"/><polygon points="1576.1,1305.6 1610.1,1305.6 1593.1,1335.6"/><polygon points="1619.4,1309.6 1653.4,1309.6 1636.4,1339.6"/><polygon points="1662.8,1313.9 1696.8,1313.9 1679.8,1343.9"/><polygon points="1706.1,1316.6 1740.1,1316.6 1723.1,1346.6"/><polygon points="1749.4,1319.8 1783.4,1319.8 1766.4,1349.8"/><polygon points="1792.7,1319.8 1826.7,1319.8 1809.7,1349.8"/><polygon points="1836.0,1321.2 1870.0,1321.2 1853.0,1351.2"/><polygon points="1879.4,1322.5 1913.4,1322.5 1896.4,1352.5"/><polygon points="1922.7,1322.5 1956.7,1322.5 1939.7,1352.5"/><polygon points="1966.0,1322.5 2000.0,1322.5 1983.0,1352.5"/></g>
</g>
<g font-size="52.5" text-anchor="middle"><text x="179.0" y="1468">300</text><text x="539.9" y="1468">400</text><text x="900.8" y="1468">500</text><text x="1261.8" y="1468">600</text><text x="1622.7" y="1468">700</text><text x="1983.6" y="1468">800</text></g>
<g font-size="52.5" text-anchor="end"><text x="151.5" y="1414.0">0</text><text x="151.5" y="1078.6">1</text><text x="151.5" y="743.2">2</text><text x="151.5" y="407.9">3</text><text x="151.5" y="72.5">4</text></g>
<text transform="translate(1082,1569) scale(0.962,1)" font-size="65" text-anchor="middle">Wavelength(nm)</text>
<text transform="translate(81.5,770.5) rotate(-90) scale(0.955,1)" font-size="67" text-anchor="middle">Absorbance(ab. unit)</text>
<rect x="1642.5" y="99.6" width="260.3" height="358.2" fill="none" stroke="#000" stroke-width="3"/>
<g font-size="65.5"><path d="M1657.5,185.4 H1703.5 M1752.5,185.4 H1798.5" stroke="#000" stroke-width="7" stroke-linecap="round" fill="none" shape-rendering="crispEdges"/><g shape-rendering="crispEdges" fill="#000"><rect x="1714.5" y="170.5" width="25" height="25"/></g><text transform="translate(1813.2,205.9) scale(0.95,1)">N</text><path d="M1657.5,264.4 H1703.5 M1752.5,264.4 H1798.5" stroke="#f00" stroke-width="7" stroke-linecap="round" fill="none" shape-rendering="crispEdges"/><g shape-rendering="crispEdges" fill="#f00"><circle cx="1727.0" cy="262.4" r="14"/></g><text transform="translate(1813.2,284.9) scale(0.95,1)">A</text><path d="M1657.5,343.5 H1703.5 M1752.5,343.5 H1798.5" stroke="#0f0" stroke-width="7" stroke-linecap="round" fill="none" shape-rendering="crispEdges"/><g shape-rendering="crispEdges" fill="#0f0"><polygon points="1727.0,322.0 1745.0,354.0 1709.0,354.0"/></g><text transform="translate(1813.2,364.0) scale(0.95,1)">P</text><path d="M1657.5,422.5 H1703.5 M1752.5,422.5 H1798.5" stroke="#00f" stroke-width="7" stroke-linecap="round" fill="none" shape-rendering="crispEdges"/><g shape-rendering="crispEdges" fill="#00f"><polygon points="1709.0,410.5 1745.0,410.5 1727.0,442.5"/></g><text transform="translate(1813.2,443.0) scale(0.95,1)">PA</text></g>
</svg>
</body></html>
